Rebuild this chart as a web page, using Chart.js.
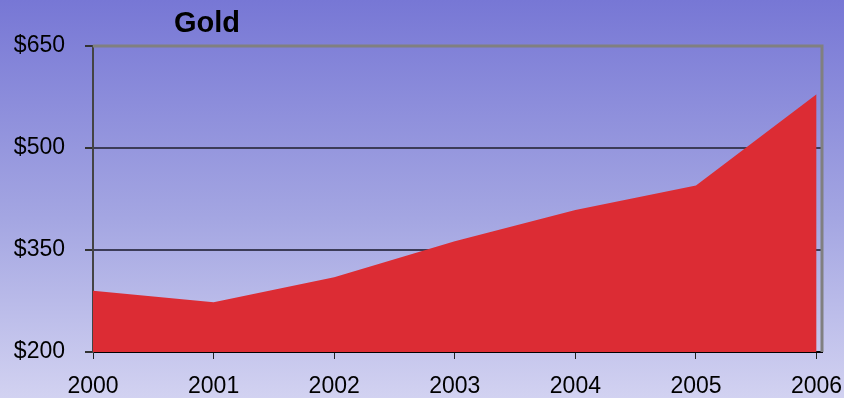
<!DOCTYPE html>
<html>
<head>
<meta charset="utf-8">
<script src="https://cdn.jsdelivr.net/npm/chart.js@4/dist/chart.umd.min.js"></script>
<style>
  html, body { margin: 0; padding: 0; }
  body {
    width: 844px; height: 398px; overflow: hidden;
    background: linear-gradient(to bottom, #7777d5 0%, #a4a6e2 55%, #d2d2f1 100%);
  }
  #wrap { position: relative; width: 844px; height: 398px; }
</style>
</head>
<body>
<div id="wrap"><canvas id="gold" width="844" height="398"></canvas></div>
<script>
'use strict';

// gold price, yearly
const years = [2000, 2001, 2002, 2003, 2004, 2005, 2006];
const prices = [290, 273, 310, 363, 409, 445, 579];
const yTicks = [200, 350, 500, 650];
const chartTitle = 'Gold';

const fontFamily = '"Liberation Sans", Arial, sans-serif';

// gray frame on top / right of plot area + title text
const framePlugin = {
  id: 'frame',
  afterDatasetsDraw(chart) {
    const { ctx, chartArea } = chart;
    ctx.save();
    ctx.strokeStyle = '#808080';
    ctx.lineWidth = 3;
    ctx.beginPath();
    ctx.moveTo(chartArea.left, chartArea.top);
    ctx.lineTo(chartArea.right, chartArea.top);
    ctx.lineTo(chartArea.right, chartArea.bottom);
    ctx.stroke();
    ctx.restore();
  },
  afterDraw(chart) {
    const ctx = chart.ctx;
    ctx.save();
    ctx.fillStyle = '#000';
    ctx.font = 'bold 29px ' + fontFamily;
    ctx.textAlign = 'center';
    ctx.textBaseline = 'alphabetic';
    ctx.fillText(chartTitle, 207, 32);
    ctx.restore();
  }
};

const ctx = document.getElementById('gold');
new Chart(ctx, {
  type: 'line',
  data: {
    datasets: [{
      label: chartTitle,
      data: years.map((y, i) => ({ x: y, y: prices[i] })),
      backgroundColor: '#dc2c34',
      borderWidth: 0,
      pointRadius: 0,
      fill: 'start',
      tension: 0
    }]
  },
  options: {
    responsive: false,
    animation: false,
    layout: { padding: { top: 46, right: 22, left: 0, bottom: 0 } },
    plugins: {
      legend: { display: false },
      title: { display: false },
      tooltip: { enabled: false }
    },
    scales: {
      x: {
        type: 'linear',
        min: 2000,
        max: 2006.045,
        afterBuildTicks(scale) {
          scale.ticks = years.map(v => ({ value: v }));
        },
        afterFit(scale) {
          scale.height = 46;
          scale.paddingLeft = 0;
          scale.paddingRight = 0;
        },
        grid: { display: true, drawOnChartArea: false, tickLength: 7, color: '#222', lineWidth: 1 },
        border: { color: '#000', width: 2 },
        ticks: {
          color: '#000',
          font: { family: fontFamily, size: 23 },
          padding: 14,
          autoSkip: false,
          maxRotation: 0,
          callback: v => String(v)
        }
      },
      y: {
        min: 200,
        max: 650,
        afterBuildTicks(scale) {
          scale.ticks = yTicks.map(v => ({ value: v }));
        },
        afterFit(scale) { scale.width = 93; },
        grid: {
          tickLength: 8,
          tickColor: '#333',
          color: c => (c.tick && (c.tick.value === 500 || c.tick.value === 350)) ? '#3c3c58' : 'rgba(0,0,0,0)',
          lineWidth: 2
        },
        border: { color: '#444', width: 2 },
        ticks: {
          color: '#000',
          font: { family: fontFamily, size: 23 },
          padding: 20,
          autoSkip: false,
          callback: v => '$' + v
        }
      }
    }
  },
  plugins: [framePlugin]
});
</script>
</body>
</html>
